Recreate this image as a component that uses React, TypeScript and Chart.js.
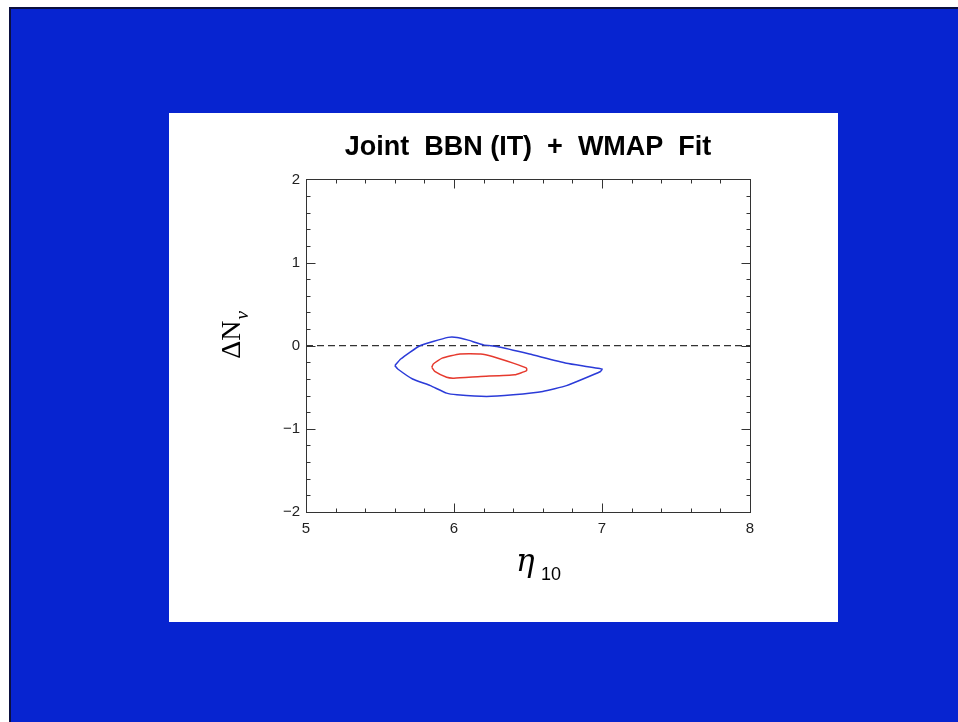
import { useEffect, useRef } from "react";
import { Chart, registerables } from "chart.js";

Chart.register(...registerables);

const TITLE = "Joint  BBN (IT)  +  WMAP  Fit";
const X_MIN = 5;
const X_MAX = 8;
const Y_MIN = -2;
const Y_MAX = 2;

// outer (blue) contour
const OUTER_X = [5.60, 5.64, 5.77, 5.96, 6.02, 6.09, 6.20, 6.29, 6.51, 6.76, 7.00, 6.99, 6.76, 6.60, 6.40, 6.22, 6.02, 5.95, 5.84, 5.72, 5.62, 5.60];
const OUTER_Y = [-0.24, -0.16, 0.00, 0.10, 0.10, 0.07, 0.01, -0.01, -0.10, -0.21, -0.28, -0.31, -0.48, -0.55, -0.59, -0.61, -0.59, -0.57, -0.48, -0.40, -0.28, -0.24];

// inner (red) contour
const INNER_X = [5.85, 5.86, 5.92, 6.04, 6.18, 6.26, 6.40, 6.49, 6.49, 6.41, 6.18, 6.00, 5.95, 5.87, 5.85];
const INNER_Y = [-0.26, -0.22, -0.15, -0.10, -0.10, -0.13, -0.21, -0.27, -0.30, -0.35, -0.37, -0.39, -0.38, -0.31, -0.26];

// reference line ΔNν = 0
const REF_X = [5, 8];
const REF_Y = [0, 0];

const toPts = (xs: number[], ys: number[]) => xs.map((x, i) => ({ x, y: ys[i] }));

const framePlugin = {
  id: "frameTicks",
  afterDraw(chart: any) {
    const { ctx, chartArea: a, scales } = chart;
    const sx = scales.x;
    const sy = scales.y;
    ctx.save();
    ctx.strokeStyle = "#333";
    ctx.lineWidth = 1;
    const L = Math.round(a.left) + 0.5;
    const R = Math.round(a.right) + 0.5;
    const T = Math.round(a.top) + 0.5;
    const B = Math.round(a.bottom) + 0.5;
    ctx.strokeRect(L, T, R - L, B - T);
    ctx.beginPath();
    // x ticks (bottom & top, inward)
    for (let i = 0; i <= (X_MAX - X_MIN) * 5; i++) {
      const v = X_MIN + i * 0.2;
      const major = Math.abs(v - Math.round(v)) < 1e-6;
      const len = major ? 9 : 4;
      const px = Math.round(sx.getPixelForValue(v)) + 0.5;
      ctx.moveTo(px, B);
      ctx.lineTo(px, B - len);
      ctx.moveTo(px, T);
      ctx.lineTo(px, T + len);
    }
    // y ticks (left & right, inward)
    for (let i = 0; i <= (Y_MAX - Y_MIN) * 5; i++) {
      const v = Y_MIN + i * 0.2;
      const major = Math.abs(v - Math.round(v)) < 1e-6;
      const len = major ? 9 : 4;
      const py = Math.round(sy.getPixelForValue(v)) + 0.5;
      ctx.moveTo(L, py);
      ctx.lineTo(L + len, py);
      ctx.moveTo(R, py);
      ctx.lineTo(R - len, py);
    }
    ctx.stroke();

    // x axis title: η_10
    ctx.fillStyle = "#000";
    ctx.textAlign = "left";
    ctx.textBaseline = "alphabetic";
    const cx = (a.left + a.right) / 2;
    ctx.font = "italic 31px 'DejaVu Serif'";
    ctx.fillText("η", cx - 12, a.bottom + 59);
    ctx.font = "18px 'Liberation Sans'";
    ctx.fillText("10", cx + 13, a.bottom + 68);

    // y axis title: ΔN_ν (rotated)
    ctx.save();
    ctx.translate(a.left - 66, (a.top + a.bottom) / 2 + 13);
    ctx.rotate(-Math.PI / 2);
    ctx.font = "28px 'Liberation Serif'";
    ctx.fillText("ΔN", 0, 0);
    const w = ctx.measureText("ΔN").width;
    ctx.font = "italic 19px 'Liberation Serif'";
    ctx.fillText("ν", w + 1, 8);
    ctx.restore();

    ctx.restore();
  },
};

export default function App() {
  const ref = useRef<HTMLCanvasElement | null>(null);

  useEffect(() => {
    if (!ref.current) return;
    const chart = new Chart(ref.current, {
      type: "scatter",
      data: {
        datasets: [
          {
            label: "outer",
            data: toPts(OUTER_X, OUTER_Y),
            showLine: true,
            borderColor: "#2b3bd8",
            borderWidth: 1.5,
            pointRadius: 0,
            tension: 0.15,
            fill: false,
          },
          {
            label: "inner",
            data: toPts(INNER_X, INNER_Y),
            showLine: true,
            borderColor: "#e63a2e",
            borderWidth: 1.5,
            pointRadius: 0,
            tension: 0.15,
            fill: false,
          },
          {
            label: "zero",
            data: toPts(REF_X, REF_Y),
            showLine: true,
            borderColor: "#333",
            borderWidth: 1.2,
            borderDash: [7, 4],
            pointRadius: 0,
            fill: false,
          },
        ],
      },
      options: {
        animation: false,
        responsive: false,
        maintainAspectRatio: false,
        layout: { padding: { left: 0, right: 88, top: 0, bottom: 0 } },
        plugins: {
          legend: { display: false },
          tooltip: { enabled: false },
          title: {
            display: true,
            text: TITLE,
            fullSize: false,
            color: "#000",
            font: { family: "'Liberation Sans', Arial", size: 27, weight: "bold" },
            padding: { top: 18, bottom: 16 },
          },
        },
        scales: {
          x: {
            type: "linear",
            min: X_MIN,
            max: X_MAX,
            border: { display: false },
            grid: { display: false, drawTicks: false },
            ticks: {
              stepSize: 1,
              padding: 8,
              color: "#222",
              font: { family: "'Liberation Sans'", size: 15 },
            },
            afterFit: (s: any) => {
              s.height = 110;
            },
          },
          y: {
            type: "linear",
            min: Y_MIN,
            max: Y_MAX,
            border: { display: false },
            grid: { display: false, drawTicks: false },
            ticks: {
              stepSize: 1,
              padding: 6,
              color: "#222",
              font: { family: "'Liberation Sans'", size: 15 },
              callback: (v: any) => String(v).replace("-", "\u2212"),
            },
            afterFit: (s: any) => {
              s.width = 137;
            },
          },
        },
      },
      plugins: [framePlugin],
    });
    return () => chart.destroy();
  }, []);

  return (
    <div style={{ position: "fixed", left: 0, top: 0, width: 958, height: 722, background: "#fff", overflow: "hidden" }}>
      <div
        style={{
          position: "absolute",
          left: 9,
          top: 7,
          width: 949,
          height: 715,
          background: "#0724d0",
          borderLeft: "2px solid #0b1040",
          borderTop: "2px solid #0b1040",
          boxSizing: "border-box",
        }}
      />
      <div style={{ position: "absolute", left: 169, top: 113, width: 669, height: 509, background: "#fff" }}>
        <canvas ref={ref} width={669} height={509} style={{ display: "block", width: 669, height: 509 }} />
      </div>
    </div>
  );
}
